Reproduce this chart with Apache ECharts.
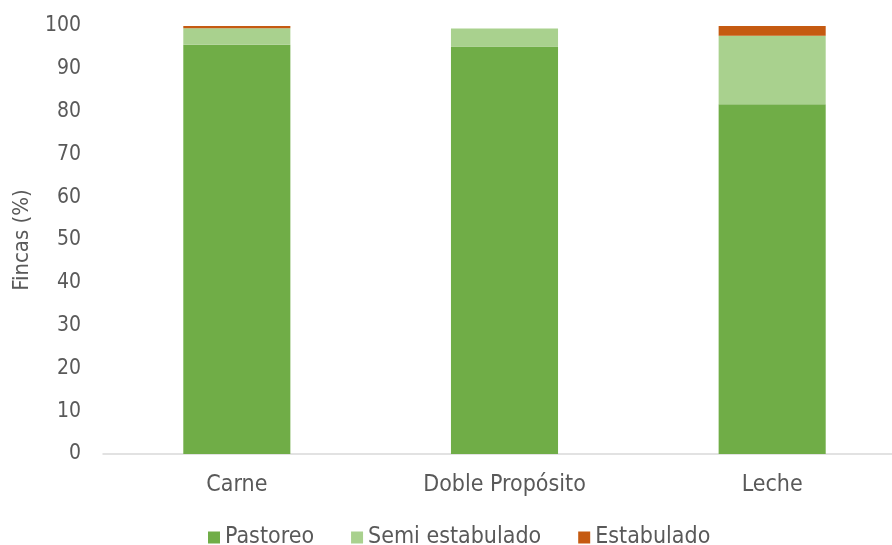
<!DOCTYPE html>
<html>
<head>
<meta charset="utf-8">
<script src="https://cdn.jsdelivr.net/npm/echarts@6/dist/echarts.min.js"></script>
<style>
html,body{margin:0;padding:0;background:#fff;}
#chart{width:892px;height:545px;}
</style>
</head>
<body>
<div id="chart"></div>
<script>
// Share of farms (%) by management system for each production type
const categories = ['Carne', 'Doble Propósito', 'Leche'];
const pastoreo = [95.6, 95.2, 81.7];
const semiEstabulado = [3.9, 4.2, 16.0];
const estabulado = [0.5, 0, 2.3];
const yTicks = [0, 10, 20, 30, 40, 50, 60, 70, 80, 90, 100];

const font = '"DejaVu Sans Condensed", "DejaVu Sans", sans-serif';
const textColor = '#595959';

const chart = echarts.init(document.getElementById('chart'), null, {renderer: 'canvas'});

function barSeries(name, data, color) {
  return {
    name: name,
    type: 'bar',
    stack: 'total',
    data: data,
    barWidth: '40%',
    itemStyle: {color: color},
    emphasis: {disabled: true}
  };
}

chart.setOption({
  animation: false,
  grid: {left: 103, top: 26, right: -14, bottom: 91, outerBoundsMode: 'none', containLabel: false},
  legend: {
    top: 526,
    left: 208,
    padding: 0,
    itemWidth: 12,
    itemHeight: 12,
    itemGap: 37,
    icon: 'rect',
    textStyle: {color: textColor, fontSize: 23, fontFamily: font},
    data: ['Pastoreo', 'Semi estabulado', 'Estabulado']
  },
  xAxis: {
    type: 'category',
    data: categories,
    axisTick: {show: false},
    axisLine: {lineStyle: {color: '#d9d9d9', width: 1.5}},
    axisLabel: {color: textColor, fontSize: 23, fontFamily: font, margin: 20}
  },
  yAxis: {
    type: 'value',
    min: yTicks[0],
    max: yTicks[yTicks.length - 1],
    interval: 10,
    name: 'Fincas (%)',
    nameLocation: 'middle',
    nameGap: 70,
    nameRotate: 90,
    nameTextStyle: {color: textColor, fontSize: 22, fontFamily: font},
    splitLine: {show: false},
    axisLine: {show: false},
    axisTick: {show: false},
    axisLabel: {color: textColor, fontSize: 21, fontFamily: font, margin: 22}
  },
  series: [
    barSeries('Pastoreo', pastoreo, '#70AD47'),
    barSeries('Semi estabulado', semiEstabulado, '#A9D18E'),
    barSeries('Estabulado', estabulado, '#C55A11')
  ]
});
</script>
</body>
</html>
